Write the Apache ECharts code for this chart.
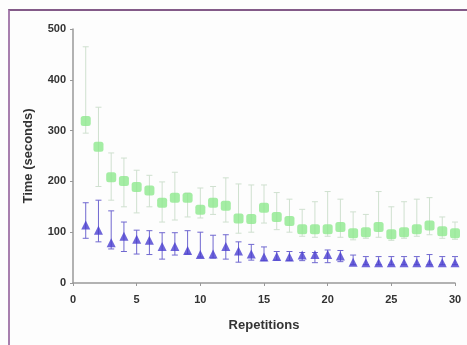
<!DOCTYPE html>
<html>
<head>
<meta charset="utf-8">
<script src="https://cdn.jsdelivr.net/npm/echarts@6/dist/echarts.min.js"></script>
<style>
html,body{margin:0;padding:0;background:#fdfdfd;}
#wrap{position:relative;width:467px;height:345px;}
#chart{width:467px;height:345px;}
#frame{position:absolute;left:8px;top:9px;right:0;bottom:0;border-top:2px solid #835a88;border-left:2px solid #a77fae;pointer-events:none;}
</style>
</head>
<body>
<div id="wrap"><div id="chart"></div><div id="frame"></div></div>
<script>
const reps = [1,2,3,4,5,6,7,8,9,10,11,12,13,14,15,16,17,18,19,20,21,22,23,24,25,26,27,28,29,30];
const xTicks = [0,5,10,15,20,25,30];
const yTicks = [0,100,200,300,400,500];

const greenMean = [319,268,208,201,189,182,158,168,168,144,158,152,127,126,148,130,122,106,106,106,110,98,100,110,96,100,106,113,102,98];
const greenLow  = [295,190,163,150,138,150,120,124,130,128,135,120,98,100,118,105,100,92,90,92,90,85,88,90,84,88,92,95,88,86];
const greenHigh = [465,346,256,246,222,212,199,218,177,187,190,207,195,193,193,178,165,145,160,180,165,140,135,180,150,160,165,168,130,120];

const blueMean = [114,104,79,92,86,84,72,72,64,56,57,72,63,57,51,52,51,55,56,56,53,41,40,40,40,40,40,40,40,40];
const blueLow  = [88,81,67,62,57,56,47,55,57,51,49,47,41,45,44,45,44,44,40,40,42,36,36,36,36,36,36,36,36,36];
const blueHigh = [158,163,142,120,104,103,99,99,103,100,94,95,81,76,71,62,62,60,60,65,64,55,52,52,52,52,52,56,52,52];

function errData(mean, low, high){
  return reps.map((x,i)=>[x, low[i], high[i]]);
}
function ptData(mean){
  return reps.map((x,i)=>[x, mean[i]]);
}
function errRender(color, capW){
  return function(params, api){
    const x = api.value(0);
    const lo = api.coord([x, api.value(1)]);
    const hi = api.coord([x, api.value(2)]);
    const st = {stroke: color, lineWidth: 1};
    return {type:'group', children:[
      {type:'line', shape:{x1:lo[0], y1:lo[1], x2:hi[0], y2:hi[1]}, style:st},
      {type:'line', shape:{x1:hi[0]-capW, y1:hi[1], x2:hi[0]+capW, y2:hi[1]}, style:st},
      {type:'line', shape:{x1:lo[0]-capW, y1:lo[1], x2:lo[0]+capW, y2:lo[1]}, style:st}
    ]};
  };
}

const chart = echarts.init(document.getElementById('chart'));
const lbl = {color:'#333', fontFamily:'Liberation Sans, Arial, sans-serif', fontWeight:'bold', fontSize:11};
chart.setOption({
  backgroundColor:'#fdfdfd',
  animation:false,
  grid:{left:73, right:12, top:29, bottom:62},
  xAxis:{
    type:'value', min:0, max:30, interval:5,
    name:'Repetitions', nameLocation:'middle', nameGap:36,
    nameTextStyle:{color:'#333', fontFamily:'Liberation Sans, Arial, sans-serif', fontWeight:'bold', fontSize:13},
    axisLine:{lineStyle:{color:'#999', width:1.5}},
    axisTick:{show:true, length:3, lineStyle:{color:'#999'}},
    axisLabel:Object.assign({margin:11, formatter:v=>xTicks.includes(v)?String(v):''}, lbl),
    splitLine:{show:false}
  },
  yAxis:{
    type:'value', min:0, max:500, interval:100,
    name:'Time (seconds)', nameLocation:'middle', nameGap:38, nameRotate:90,
    nameTextStyle:{color:'#333', fontFamily:'Liberation Sans, Arial, sans-serif', fontWeight:'bold', fontSize:13},
    axisLine:{show:true, lineStyle:{color:'#999', width:1.5}},
    axisTick:{show:true, length:3, lineStyle:{color:'#999'}},
    axisLabel:Object.assign({margin:7, formatter:v=>yTicks.includes(v)?String(v):''}, lbl),
    splitLine:{show:false}
  },
  series:[
    {type:'custom', name:'greenErr', data:errData(greenMean,greenLow,greenHigh), renderItem:errRender('#cfe0cf',3), z:1},
    {type:'custom', name:'blueErr', data:errData(blueMean,blueLow,blueHigh), renderItem:errRender('#7068d0',3), z:2},
    {type:'scatter', name:'green', data:ptData(greenMean), symbol:'roundRect', symbolSize:10, itemStyle:{color:'#8de88d'}, z:3},
    {type:'scatter', name:'blue', data:ptData(blueMean), symbol:'triangle', symbolSize:9, itemStyle:{color:'#4a3fd0'}, z:4}
  ]
});
</script>
</body>
</html>
